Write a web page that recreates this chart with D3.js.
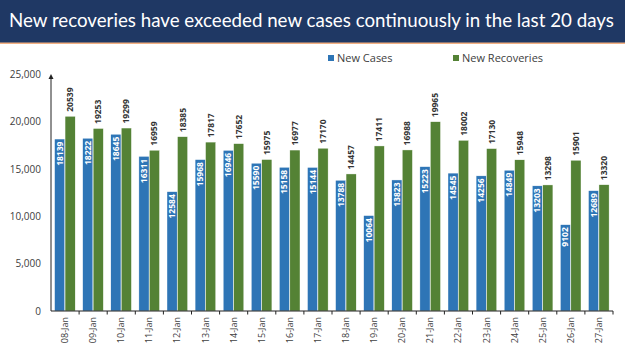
<!DOCTYPE html>
<html lang="en">

<head>
    <meta charset="UTF-8">
    <title>Recoveries vs cases</title>
    <style>
        body { margin: 0; background: #fff; }
        svg { display: block; font-family: "Open Sans", sans-serif; }
    </style>
</head>

<body>
    <svg width="625" height="351" id="svg"></svg>
    <script src="https://d3js.org/d3.v7.min.js"></script>
    <script>
        const dates = ["08-Jan", "09-Jan", "10-Jan", "11-Jan", "12-Jan", "13-Jan", "14-Jan", "15-Jan", "16-Jan", "17-Jan",
            "18-Jan", "19-Jan", "20-Jan", "21-Jan", "22-Jan", "23-Jan", "24-Jan", "25-Jan", "26-Jan", "27-Jan"]
        const newCases = [18139, 18222, 18645, 16311, 12584, 15968, 16946, 15590, 15158, 15144,
            13788, 10064, 13823, 15223, 14545, 14256, 14849, 13203, 9102, 12689]
        const newRecoveries = [20539, 19253, 19299, 16959, 18385, 17817, 17652, 15975, 16977, 17170,
            14457, 17411, 16988, 19965, 18002, 17130, 15948, 13298, 15901, 13320]
        const yTicks = [0, 5000, 10000, 15000, 20000, 25000]
        const seriesNames = ["New Cases", "New Recoveries"]

        const colors = { "New Cases": "#2e75b6", "New Recoveries": "#548235" }
        const svg = d3.select("svg#svg")
        const width = +svg.attr("width")

        // title bar
        svg.append("rect").attr("x", 0).attr("y", 0).attr("width", width).attr("height", 43).attr("fill", "#1f3864")
        svg.append("rect").attr("x", 0).attr("y", 42.5).attr("width", width).attr("height", 1.5).attr("fill", "#f4b183")
        const title = svg.append("text").text("New recoveries have exceeded new cases continuously in the last 20 days")
            .attr("x", 9).attr("y", 27).attr("fill", "#fff")
            .attr("font-family", "Lato, sans-serif").attr("font-size", 20)
        // shrink/grow font so the title spans about 606px
        const tw = title.node().getComputedTextLength()
        title.attr("font-size", 20 * 605 / tw)

        const rows = dates.map((d, i) => ({ date: d, "New Cases": newCases[i], "New Recoveries": newRecoveries[i] }))

        const x0 = 51, x1 = 613, yBase = 311, yTop = 74
        const xScale = d3.scaleBand().domain(dates).range([x0, x1])
        const xInner = d3.scaleBand().domain(seriesNames).range([3.6, 24.2]).paddingInner(0.03)
        const yScale = d3.scaleLinear().domain([0, 25000]).range([yBase, yTop])

        // y axis
        const yAxis = d3.axisLeft(yScale).tickValues(yTicks).tickFormat(d3.format(",")).tickSize(0).tickPadding(10)
        const gy = svg.append("g").attr("transform", `translate(${x0},0)`).call(yAxis)
        gy.select(".domain").remove()
        gy.selectAll("text").attr("font-size", 10).attr("fill", "#404040").attr("font-family", "Open Sans, sans-serif")
        svg.append("line").attr("x1", x0).attr("x2", x0).attr("y1", yBase).attr("y2", yTop + 4)
            .attr("stroke", "#222").attr("stroke-width", 1)
        svg.append("path").attr("d", `M${x0 - 2.5},${yTop + 5}L${x0},${yTop}L${x0 + 2.5},${yTop + 5}Z`).attr("fill", "#222")

        // bars
        const groups = svg.append("g").selectAll("g").data(rows).join("g")
            .attr("transform", d => `translate(${xScale(d.date)},0)`)

        groups.selectAll("rect").data(d => seriesNames.map(k => ({ key: k, value: d[k] }))).join("rect")
            .attr("x", d => xInner(d.key))
            .attr("width", xInner.bandwidth())
            .attr("y", d => yScale(d.value))
            .attr("height", d => yBase - yScale(d.value))
            .attr("fill", d => colors[d.key])
            .attr("stroke", "#fff").attr("stroke-width", 0.4)

        // value labels
        groups.selectAll("text").data(d => seriesNames.map(k => ({ key: k, value: d[k] }))).join("text")
            .text(d => d.value)
            .attr("transform", d => {
                const cx = xInner(d.key) + xInner.bandwidth() / 2 + 3
                const cy = d.key === "New Cases" ? yScale(d.value) + 2.5 : yScale(d.value) - 4.5
                return `translate(${cx},${cy}) rotate(-90)`
            })
            .attr("text-anchor", d => d.key === "New Cases" ? "end" : "start")
            .attr("font-size", 8.5).attr("font-weight", "bold")
            .attr("fill", d => d.key === "New Cases" ? "#fff" : "#333")

        // x axis
        svg.append("line").attr("x1", x0).attr("x2", x1).attr("y1", yBase).attr("y2", yBase)
            .attr("stroke", "#222").attr("stroke-width", 1)
        svg.append("g").selectAll("line").data(dates).join("line")
            .attr("x1", d => xScale(d) + xScale.bandwidth()).attr("x2", d => xScale(d) + xScale.bandwidth())
            .attr("y1", yBase).attr("y2", yBase + 3.5).attr("stroke", "#222")
        svg.append("g").selectAll("text").data(dates).join("text")
            .text(d => d)
            .attr("transform", d => `translate(${xScale(d) + xScale.bandwidth() / 2 + 3},${yBase + 6}) rotate(-90)`)
            .attr("text-anchor", "end").attr("font-size", 9).attr("fill", "#404040")

        // legend
        const legend = svg.append("g").selectAll("g").data(seriesNames).join("g")
            .attr("transform", (d, i) => `translate(${[328, 453][i]},58)`)
        legend.append("rect").attr("x", 0).attr("y", -3).attr("width", 6).attr("height", 6).attr("fill", d => colors[d])
        legend.append("text").text(d => d).attr("x", 9).attr("y", 4)
            .attr("font-size", 11).attr("fill", "#404040")
    </script>
</body>

</html>
